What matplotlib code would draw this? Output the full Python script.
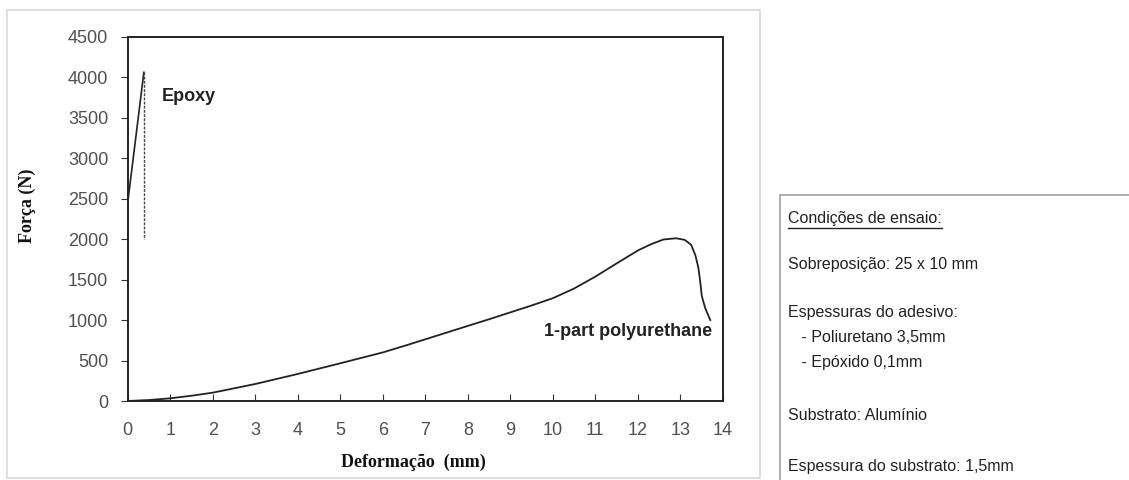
import matplotlib.pyplot as plt
from matplotlib.patches import Rectangle
from matplotlib.lines import Line2D

# Epoxy curve
epoxy_x = [0.0, 0.38, 0.38]
epoxy_y = [2450, 4060, 2000]

# 1-part polyurethane curve
pu_x = [0.0, 0.5, 1.0, 1.5, 2.0, 3.0, 4.0, 5.0, 6.0, 6.5, 7.0, 7.5, 8.0, 8.5, 9.0,
        9.5, 10.0, 10.5, 11.0, 11.5, 12.0, 12.3, 12.6, 12.9, 13.1, 13.25, 13.35,
        13.42, 13.47, 13.5, 13.58, 13.7]
pu_y = [0, 12, 33, 65, 103, 210, 334, 466, 600, 680, 762, 845, 928, 1010, 1095,
        1180, 1270, 1390, 1537, 1700, 1860, 1935, 1995, 2010, 1990, 1930, 1800,
        1650, 1450, 1300, 1150, 1000]

x_ticks = list(range(0, 15))
y_ticks = list(range(0, 4501, 500))

conditions = [
    ("Condições de ensaio:", 788, 218),
    ("Sobreposição: 25 x 10 mm", 788, 264),
    ("Espessuras do adesivo:", 788, 313),
    ("   - Poliuretano 3,5mm", 788, 337),
    ("   - Epóxido 0,1mm", 788, 362),
    ("Substrato: Alumínio", 788, 415),
    ("Espessura do substrato: 1,5mm", 788, 467),
]

W, H = 1129, 480
fig = plt.figure(figsize=(W / 100, H / 100), dpi=100)


def fx(px):
    return px / W


def fy(py):
    return 1 - py / H


# outer frame of the chart image and the conditions box
fig.patches.append(Rectangle((fx(7), fy(478)), fx(760) - fx(7), fy(10) - fy(478),
                             transform=fig.transFigure, fill=False,
                             edgecolor="#d8d8d8", linewidth=1.2))
fig.patches.append(Rectangle((fx(780), fy(482)), fx(1135) - fx(780), fy(195) - fy(482),
                             transform=fig.transFigure, fill=False,
                             edgecolor="#a0a0a0", linewidth=1.2))

ax = fig.add_axes([fx(127.7), fy(401), fx(723) - fx(127.7), fy(36.7) - fy(401)])
ax.plot(epoxy_x[:2], epoxy_y[:2], color="#222222", linewidth=1.2)
ax.plot(epoxy_x[1:], epoxy_y[1:], color="#444444", linewidth=1.0, linestyle=(0, (2, 1)))
ax.plot(pu_x, pu_y, color="#222222", linewidth=1.3)

ax.set_xlim(0, 14)
ax.set_ylim(0, 4500)
ax.set_xticks(x_ticks)
ax.set_yticks(y_ticks)
for s in ax.spines.values():
    s.set_color("#222222")
    s.set_linewidth(1.4)

ax.tick_params(axis="x", direction="in", length=5, pad=15, labelsize=13,
               labelcolor="#505050", color="#333333")
ax.tick_params(axis="y", direction="out", length=5, pad=9, labelsize=13,
               labelcolor="#505050", color="#333333")
for lab in ax.get_xticklabels() + ax.get_yticklabels():
    lab.set_fontfamily("Liberation Sans")

ax.text(0.8, 3760, "Epoxy", fontsize=13, fontweight="bold", color="#222222",
        family="Liberation Sans", va="center", ha="left")
ax.text(13.75, 857, "1-part polyurethane", fontsize=13, fontweight="bold",
        color="#222222", family="Liberation Sans", va="center", ha="right")

fig.text(fx(413), fy(462), "Deformação  (mm)", fontsize=13, fontweight="bold",
         family="Liberation Serif", ha="center", va="center", color="#111111")
fig.text(fx(27), fy(206), "Força (N)", fontsize=13, fontweight="bold",
         family="Liberation Serif", ha="center", va="center", rotation=90,
         color="#111111")

for txt, px, py in conditions:
    fig.text(fx(px), fy(py), txt, fontsize=11.5, family="Liberation Sans",
             ha="left", va="center", color="#222222")

# underline for the title of the box
fig.lines.append(Line2D([fx(788), fx(942)], [fy(228), fy(228)],
                        transform=fig.transFigure, color="#222222", linewidth=1))

fig.savefig("out.png", dpi=100)
